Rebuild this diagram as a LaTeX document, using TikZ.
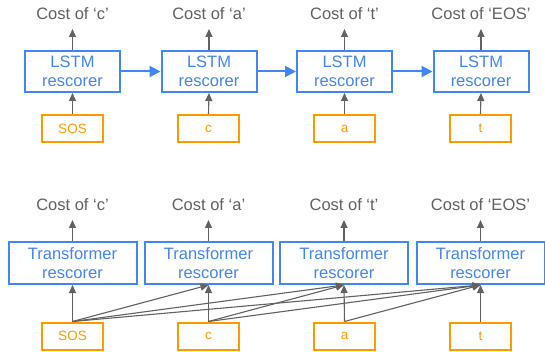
\documentclass[tikz,border=0pt]{standalone}
\usepackage{fontspec}
\setmainfont{Liberation Sans}
\usetikzlibrary{arrows.meta}
\definecolor{gblue}{HTML}{4285F4}
\definecolor{gorange}{HTML}{FF9900}
\definecolor{ggray}{HTML}{616161}
\tikzset{
  lstmbox/.style={draw=gblue, line width=2pt, text=gblue, minimum width=95pt, minimum height=41pt,
    inner sep=0pt, align=center, font=\fontsize{16.5}{19.5}\selectfont},
  tfbox/.style={draw=gblue, line width=2pt, text=gblue, minimum width=128pt, minimum height=42pt,
    inner sep=0pt, align=center, font=\fontsize{16.5}{19.5}\selectfont},
  inbox/.style={draw=gorange, line width=2pt, text=gorange, minimum width=61pt, minimum height=27pt,
    inner sep=0pt, font=\fontsize{13.5}{16}\selectfont},
  costlabel/.style={text=ggray, inner xsep=0pt, inner ysep=9pt, anchor=south,
    font=\fontsize{16.5}{19.5}\selectfont},
  grayarrow/.style={draw=ggray, line width=1.1pt, -{Triangle[length=8pt,width=7pt]}},
  bluearrow/.style={draw=gblue, line width=2pt, -{Triangle[length=11pt,width=11pt]}},
}
\begin{document}
\begin{tikzpicture}[x=1pt,y=-1pt]
\useasboundingbox (0,0) rectangle (545,352);
% top row
\node[lstmbox] (l1) at (72.5,71.5) {LSTM\\rescorer};
\node[lstmbox] (l2) at (209,71.5) {LSTM\\rescorer};
\node[lstmbox] (l3) at (344.5,71.5) {LSTM\\rescorer};
\node[lstmbox] (l4) at (481,71.5) {LSTM\\rescorer};
\node[inbox] (i1) at (72.5,128.5) {SOS};
\node[inbox] (i2) at (208.5,128.5) {c};
\node[inbox] (i3) at (344.5,128.5) {a};
\node[inbox] (i4) at (480.5,128.5) {t};
\node[costlabel] (c1) at (72.5,29) {Cost of ‘c’};
\node[costlabel] (c2) at (209,29) {Cost of ‘a’};
\node[costlabel] (c3) at (344.5,29) {Cost of ‘t’};
\node[costlabel] (c4) at (481,29) {Cost of ‘EOS’};
\foreach \k in {1,2,3,4}{
  \draw[grayarrow] (l\k.north) -- (c\k.south);
  \draw[grayarrow] (i\k.north) -- (l\k.south);
}
\draw[bluearrow] (l1.east) -- (l2.west);
\draw[bluearrow] (l2.east) -- (l3.west);
\draw[bluearrow] (l3.east) -- (l4.west);
% bottom row
\node[tfbox] (t1) at (72.5,263) {Transformer\\rescorer};
\node[tfbox] (t2) at (208.5,263) {Transformer\\rescorer};
\node[tfbox] (t3) at (344,263) {Transformer\\rescorer};
\node[tfbox] (t4) at (480.5,263) {Transformer\\rescorer};
\node[inbox] (j1) at (72.5,336) {SOS};
\node[inbox] (j2) at (208.5,336) {c};
\node[inbox] (j3) at (344.5,336) {a};
\node[inbox] (j4) at (480.5,336) {t};
\node[costlabel] (d1) at (72.5,220) {Cost of ‘c’};
\node[costlabel] (d2) at (208.5,220) {Cost of ‘a’};
\node[costlabel] (d3) at (344,220) {Cost of ‘t’};
\node[costlabel] (d4) at (480.5,220) {Cost of ‘EOS’};
\foreach \k in {1,2,3,4}{
  \draw[grayarrow] (t\k.north) -- (d\k.south);
}
\foreach \i/\j in {1/1,1/2,1/3,1/4,2/2,2/3,2/4,3/3,3/4,4/4}{
  \draw[grayarrow] (j\i.north) -- (t\j.south);
}
\end{tikzpicture}
\end{document}
